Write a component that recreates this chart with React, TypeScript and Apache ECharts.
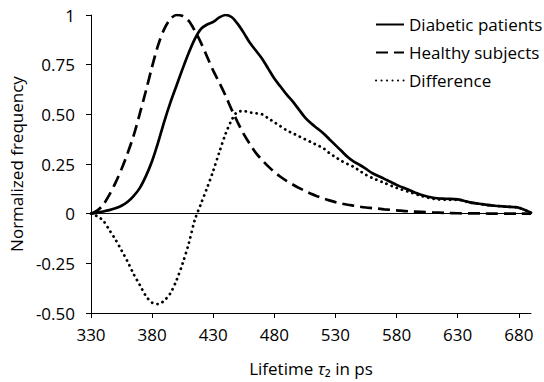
import React, { useEffect, useRef } from "react";
import * as echarts from "echarts";

const lifetimes = [
  330, 335, 340, 345, 350, 355, 360, 365, 370, 375, 380, 385, 390, 395, 400, 405, 410, 415, 420, 425,
  430, 435, 440, 445, 450, 455, 460, 465, 470, 475, 480, 485, 490, 495, 500, 505, 510, 515, 520, 525,
  530, 535, 540, 545, 550, 555, 560, 570, 580, 590, 600, 610, 620, 630, 640, 650, 660, 670, 680, 690,
];

const diabetic = [
  0, 0.005, 0.011, 0.018, 0.027, 0.04, 0.06, 0.09, 0.13, 0.19, 0.265, 0.36, 0.465, 0.56, 0.645, 0.73, 0.81, 0.88, 0.93, 0.952,
  0.965, 0.988, 1.0, 0.99, 0.955, 0.91, 0.86, 0.82, 0.78, 0.73, 0.68, 0.64, 0.6, 0.565, 0.525, 0.485, 0.455, 0.43, 0.405, 0.375,
  0.345, 0.315, 0.285, 0.262, 0.245, 0.225, 0.205, 0.175, 0.145, 0.12, 0.095, 0.08, 0.075, 0.072, 0.057, 0.048, 0.04, 0.035, 0.03, 0.005,
];

const healthy = [
  0, 0.015, 0.045, 0.095, 0.155, 0.225, 0.305, 0.395, 0.505, 0.62, 0.74, 0.85, 0.93, 0.98, 1.0, 0.995, 0.97, 0.92, 0.86, 0.79,
  0.72, 0.66, 0.595, 0.525, 0.46, 0.4, 0.35, 0.305, 0.27, 0.238, 0.21, 0.186, 0.165, 0.147, 0.13, 0.115, 0.1, 0.088, 0.077, 0.067,
  0.058, 0.051, 0.045, 0.04, 0.035, 0.031, 0.028, 0.022, 0.017, 0.012, 0.009, 0.006, 0.004, 0.002, 0.001, 0.001, 0, 0, 0, 0,
];

const difference = [
  0, -0.013, -0.035, -0.082, -0.13, -0.185, -0.242, -0.305, -0.36, -0.415, -0.448, -0.455, -0.437, -0.4, -0.335, -0.25, -0.15, -0.03, 0.05, 0.13,
  0.215, 0.31, 0.4, 0.47, 0.513, 0.516, 0.51, 0.505, 0.5, 0.48, 0.46, 0.44, 0.42, 0.405, 0.39, 0.375, 0.36, 0.345, 0.33, 0.305,
  0.285, 0.265, 0.25, 0.235, 0.215, 0.195, 0.18, 0.155, 0.13, 0.11, 0.09, 0.075, 0.07, 0.07, 0.056, 0.047, 0.04, 0.035, 0.03, 0.005,
];

const xTickValues = [330, 380, 430, 480, 530, 580, 630, 680];
const seriesNames = ["Diabetic patients", "Healthy subjects", "Difference"];

const FONT = "Open Sans";

export default function App() {
  const ref = useRef<HTMLDivElement>(null);
  useEffect(() => {
    document.body.style.margin = "0";
    if (!ref.current) return;
    const chart = echarts.init(ref.current, null, { renderer: "svg" });
    const pairs = (vals: number[]) => lifetimes.map((x, i) => [x, vals[i]]);
    chart.setOption({
      animation: false,
      backgroundColor: "#fff",
      textStyle: { fontFamily: FONT, color: "#000" },
      grid: { left: 87, right: 13, top: 15, bottom: 64, containLabel: false },
      legend: {
        orient: "vertical",
        left: 375,
        top: 16,
        padding: 0,
        itemWidth: 28,
        itemHeight: 14,
        itemGap: 11,
        data: seriesNames,
        itemStyle: { color: "rgba(0,0,0,0)", borderColor: "rgba(0,0,0,0)", borderWidth: 0 },
        textStyle: { fontFamily: FONT, fontSize: 17, color: "#000" },
      },
      xAxis: {
        type: "value",
        min: 330,
        max: 690,
        interval: 50,
        name: "Lifetime {t|τ}₂ in ps",
        nameLocation: "middle",
        nameGap: 47,
        nameTextStyle: {
          fontFamily: FONT,
          fontSize: 17,
          color: "#000",
          rich: { t: { fontFamily: FONT, fontSize: 17, fontStyle: "italic", color: "#000" } },
        },
        axisLine: { onZero: false, lineStyle: { color: "#000", width: 1 } },
        axisTick: { show: true, length: 5, lineStyle: { color: "#000" }, customValues: xTickValues },
        axisLabel: { fontFamily: FONT, fontSize: 17, color: "#000", margin: 13, customValues: xTickValues },
        splitLine: { show: false },
      },
      yAxis: {
        type: "value",
        min: -0.5,
        max: 1,
        interval: 0.25,
        name: "Normalized frequency",
        nameLocation: "middle",
        nameGap: 60,
        nameTextStyle: { fontFamily: FONT, fontSize: 17, color: "#000" },
        axisLine: { show: true, lineStyle: { color: "#000", width: 1 } },
        axisTick: { show: true, length: 5, lineStyle: { color: "#000" } },
        axisLabel: {
          fontFamily: FONT,
          fontSize: 17,
          color: "#000",
          margin: 16,
          formatter: (v: number) => (v === 1 ? "1" : v === 0 ? "0" : v.toFixed(2)),
        },
        splitLine: { show: false },
      },
      series: [
        {
          name: seriesNames[0],
          type: "line",
          data: pairs(diabetic),
          smooth: 0.3,
          symbol: "none",
          lineStyle: { color: "#000", width: 2.7, type: "solid" },
          itemStyle: { color: "#000" },
          z: 3,
          markLine: {
            silent: true,
            symbol: "none",
            label: { show: false },
            lineStyle: { color: "#000", width: 1, type: "solid" },
            data: [{ yAxis: 0 }],
          },
        },
        {
          name: seriesNames[1],
          type: "line",
          data: pairs(healthy),
          smooth: 0.3,
          symbol: "none",
          lineStyle: { color: "#000", width: 2.7, type: [12, 6] },
          itemStyle: { color: "#000" },
          z: 3,
        },
        {
          name: seriesNames[2],
          type: "line",
          data: pairs(difference),
          smooth: 0.3,
          symbol: "none",
          lineStyle: { color: "#000", width: 2.8, type: [0.1, 5.4], cap: "round" },
          itemStyle: { color: "#000" },
          z: 3,
        },
      ],
    });
    return () => chart.dispose();
  }, []);
  return <div ref={ref} style={{ width: 544, height: 382 }} />;
}
